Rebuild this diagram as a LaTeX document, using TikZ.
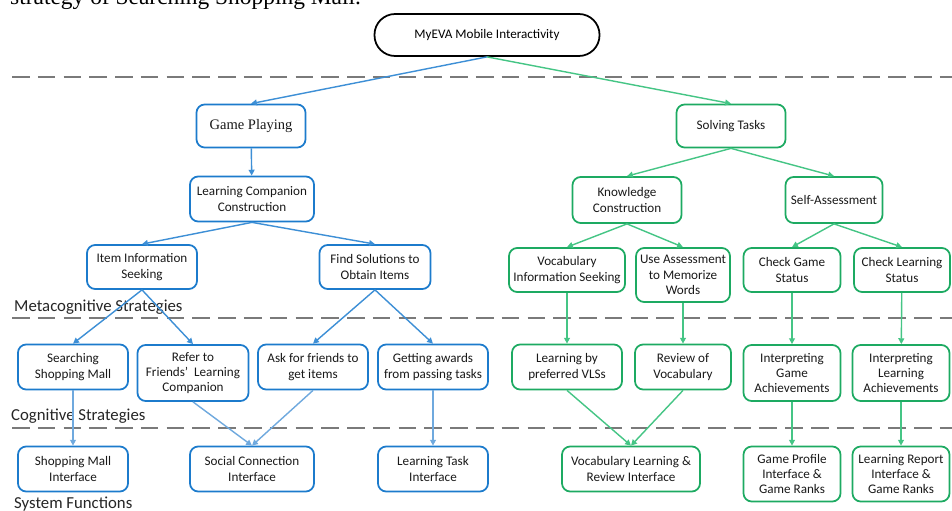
\documentclass[tikz,border=0pt]{standalone}
\usepackage{fontspec}
\setmainfont{Liberation Serif}
\newfontfamily\boxfont{Carlito}
\usetikzlibrary{arrows.meta}

\definecolor{gameblue}{HTML}{1C7BCC}
\definecolor{gameedge}{HTML}{3D8FD6}
\definecolor{gamelight}{HTML}{6FA9DE}
\definecolor{taskgreen}{HTML}{1DAA62}
\definecolor{taskedge}{HTML}{45C585}
\definecolor{levelgray}{HTML}{7A7A7A}

\tikzset{
  box/.style={draw, rounded corners=7pt, line width=1.5pt, align=center,
    inner sep=1pt, font=\boxfont\fontsize{11.2}{13}\selectfont, text=black!90},
  gamebox/.style={box, draw=gameblue},
  taskbox/.style={box, draw=taskgreen},
  gameline/.style={draw=gameedge, line width=1.2pt, -{Triangle[length=5pt,width=5pt]}},
  taskline/.style={draw=taskedge, line width=1.2pt, -{Triangle[length=5pt,width=5pt]}},
  levelline/.style={draw=levelgray, line width=1.6pt, dash pattern=on 15pt off 7pt},
  levellabel/.style={anchor=west, inner sep=0pt, text=black!85,
    font=\boxfont\fontsize{14.3}{16}\selectfont}
}

\begin{document}
\begin{tikzpicture}[x=0.03cm, y=-0.03cm]
  \clip (0,0) rectangle (952,511);
  \fill[white] (0,0) rectangle (952,511);

  % Caption cut at the top
  \node[anchor=base west, inner sep=0pt, font=\fontsize{20}{23}\selectfont] (caption)
    at (10,5) {strategy of Searching Shopping Mall.};

  % Levels
  \coordinate (L1a) at (12,77);  \coordinate (L1b) at (952,77);
  \coordinate (L2a) at (12,318); \coordinate (L2b) at (952,318);
  \coordinate (L3a) at (12,428); \coordinate (L3b) at (952,428);
  \draw[levelline] (L1a) -- (L1b);
  \draw[levelline] (L2a) -- (L2b);
  \draw[levelline] (L3a) -- (L3b);
  \node[levellabel] (meta) at (14,307) {Metacognitive Strategies};
  \node[levellabel] (cogn) at (11,416) {Cognitive Strategies};
  \node[levellabel] (sysf) at (14,504) {System Functions};

  % Root
  \node[draw, line width=1.5pt, rounded corners=0.62cm, minimum width=6.75cm,
    minimum height=1.26cm, inner sep=1pt, font=\boxfont\fontsize{11.2}{13}\selectfont]
    (root) at (487,35) {MyEVA Mobile Interactivity};

  % Game playing branch
  \node[gamebox, minimum width=3.27cm, minimum height=1.29cm,
    font=\fontsize{12.4}{14}\selectfont] (game) at (251,126) {Game Playing};
  \node[gamebox, minimum width=3.72cm, minimum height=1.35cm] (comp) at (252,199)
    {Learning Companion\\Construction};
  \node[gamebox, minimum width=3.3cm, minimum height=1.32cm] (item) at (142,267)
    {Item Information\\Seeking};
  \node[gamebox, minimum width=3.33cm, minimum height=1.32cm] (find) at (375,267)
    {Find Solutions to\\Obtain Items};
  \node[gamebox, minimum width=3.3cm, minimum height=1.35cm] (search) at (73,367)
    {Searching\\Shopping Mall};
  \node[gamebox, minimum width=3.33cm, minimum height=1.68cm] (refer) at (193,373)
    {Refer to\\Friends’\ \ Learning\\Companion};
  \node[gamebox, minimum width=3.3cm, minimum height=1.35cm] (ask) at (313,367)
    {Ask for friends to\\get items};
  \node[gamebox, minimum width=3.3cm, minimum height=1.35cm] (award) at (433,367)
    {Getting awards\\from passing tasks};
  \node[gamebox, minimum width=3.3cm, minimum height=1.35cm] (mall) at (73,469)
    {Shopping Mall\\Interface};
  \node[gamebox, minimum width=3.72cm, minimum height=1.35cm] (social) at (252,469)
    {Social Connection\\Interface};
  \node[gamebox, minimum width=3.3cm, minimum height=1.35cm] (tasks) at (433,469)
    {Learning Task\\Interface};

  % Solving tasks branch
  \node[taskbox, minimum width=3.27cm, minimum height=1.29cm] (solve) at (731,126)
    {Solving Tasks};
  \node[taskbox, minimum width=3.27cm, minimum height=1.38cm] (know) at (627,200)
    {Knowledge\\Construction};
  \node[taskbox, minimum width=2.91cm, minimum height=1.38cm] (self) at (834,200)
    {Self-Assessment};
  \node[taskbox, minimum width=3.48cm, minimum height=1.32cm] (vocab) at (567,270)
    {Vocabulary\\Information Seeking};
  \node[taskbox, minimum width=2.82cm, minimum height=1.62cm] (memo) at (683,275)
    {Use Assessment\\to Memorize\\Words};
  \node[taskbox, minimum width=2.91cm, minimum height=1.32cm] (chkgame) at (792,270)
    {Check Game\\Status};
  \node[taskbox, minimum width=2.88cm, minimum height=1.32cm] (chklearn) at (902,270)
    {Check Learning\\Status};
  \node[taskbox, minimum width=3.3cm, minimum height=1.35cm] (vls) at (567,367)
    {Learning by\\preferred VLSs};
  \node[taskbox, minimum width=2.88cm, minimum height=1.35cm] (review) at (683,367)
    {Review of\\Vocabulary};
  \node[taskbox, minimum width=2.91cm, minimum height=1.68cm] (intgame) at (792,373)
    {Interpreting\\Game\\Achievements};
  \node[taskbox, minimum width=2.91cm, minimum height=1.68cm] (intlearn) at (901,373)
    {Interpreting\\Learning\\Achievements};
  \node[taskbox, minimum width=4.14cm, minimum height=1.35cm] (vocint) at (631,469)
    {Vocabulary Learning \&\\Review Interface};
  \node[taskbox, minimum width=2.91cm, minimum height=1.65cm] (profile) at (792,474)
    {Game Profile\\Interface \&\\Game Ranks};
  \node[taskbox, minimum width=2.91cm, minimum height=1.65cm] (report) at (901,474)
    {Learning Report\\Interface \&\\Game Ranks};

  % Connectors, game playing
  \draw[gameline] (root.south) -- (game.north);
  \draw[gameline] (game) -- (comp);
  \draw[gameline] (comp.south) -- (item.north);
  \draw[gameline] (comp.south) -- (find.north);
  \draw[gameline] (item.south) -- (search.north);
  \draw[gameline] (item.south) -- (refer.north);
  \draw[gameline] (find.south) -- (ask.north);
  \draw[gameline] (find.south) -- (award.north);
  \draw[gameline, draw=gamelight] (search) -- (mall);
  \draw[gameline, draw=gamelight] (refer.south) -- (social.north);
  \draw[gameline, draw=gamelight] (ask.south) -- (social.north);
  \draw[gameline, draw=gamelight] (award) -- (tasks);

  % Connectors, solving tasks
  \draw[taskline] (root.south) -- (solve.north);
  \draw[taskline] (solve.south) -- (know.north);
  \draw[taskline] (solve.south) -- (self.north);
  \draw[taskline] (know.south) -- (vocab.north);
  \draw[taskline] (know.south) -- (memo.north);
  \draw[taskline] (self.south) -- (chkgame.north);
  \draw[taskline] (self.south) -- (chklearn.north);
  \draw[taskline] (vocab) -- (vls);
  \draw[taskline] (memo) -- (review);
  \draw[taskline] (chkgame) -- (intgame);
  \draw[taskline] (chklearn) -- (intlearn);
  \draw[taskline] (vls.south) -- (vocint.north);
  \draw[taskline] (review.south) -- (vocint.north);
  \draw[taskline] (intgame) -- (profile);
  \draw[taskline] (intlearn) -- (report);
\end{tikzpicture}
\end{document}
